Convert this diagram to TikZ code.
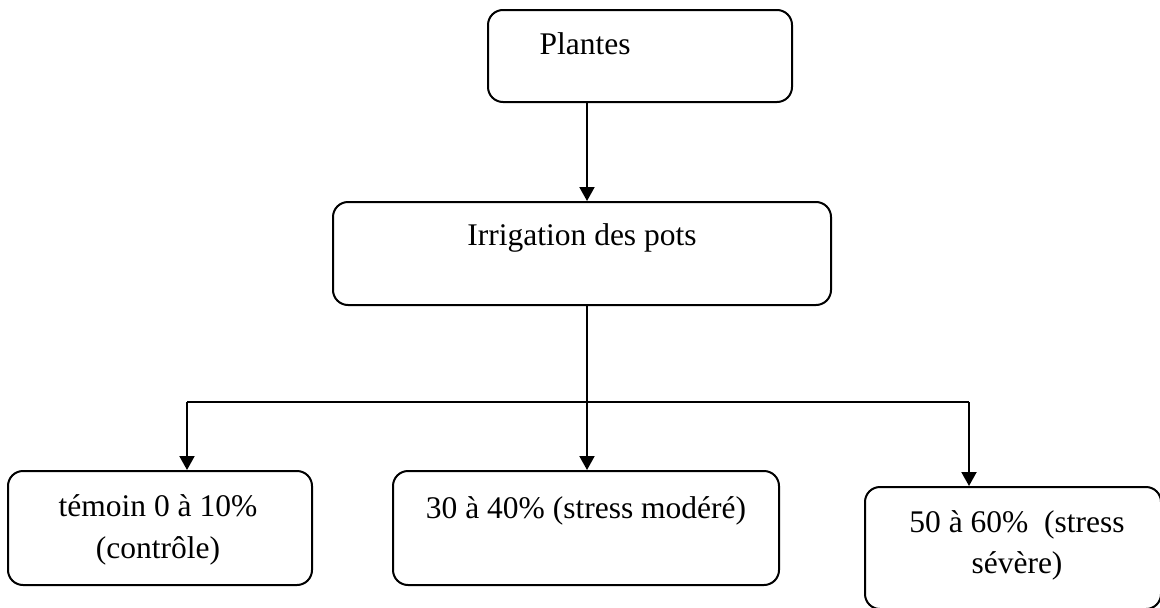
\documentclass[tikz,border=0pt]{standalone}
\usepackage{fontspec}
\setmainfont{Liberation Serif}
\usetikzlibrary{arrows.meta}
\begin{document}
\begin{tikzpicture}[x=1pt,y=-1pt,
  box/.style={draw=black,line width=2pt,rounded corners=15pt,rectangle,inner sep=0pt},
  txt/.style={anchor=base,inner sep=0pt,font=\fontsize{31.5}{38}\selectfont},
  arr/.style={line width=2pt,-{Triangle[width=15pt,length=14pt]}},
  ln/.style={line width=2pt}]
\useasboundingbox (0,0) rectangle (1160,608);
\node[box,minimum width=304pt,minimum height=92pt] (b1) at (640,56) {};
\node[box,minimum width=498pt,minimum height=103pt] (b2) at (582,253.5) {};
\node[box,minimum width=304pt,minimum height=114pt] (b3) at (160,528) {};
\node[box,minimum width=386pt,minimum height=114pt] (b4) at (586,528) {};
\node[box,minimum width=296pt,minimum height=122pt] (b5) at (1013,548) {};
\node[txt] (t1) at (585,54) {Plantes};
\node[txt] (t2) at (582,245) {Irrigation des pots};
\node[txt] (t3a) at (158,516) {témoin 0 à 10\%};
\node[txt] (t3b) at (158,558) {(contrôle)};
\node[txt] (t4) at (586,518) {30 à 40\% (stress modéré)};
\node[txt] (t5a) at (1017,532) {50 à 60\%~ (stress};
\node[txt] (t5b) at (1017,573) {sévère)};
\coordinate (j) at (587,402);
\coordinate (l) at (187,402);
\coordinate (r) at (969,402);
\draw[arr] (b1.south -| j) -- (b2.north -| j);
\draw[arr] (b2.south -| j) -- (b4.north -| j);
\draw[ln] (l) -- (r);
\draw[arr] (l) -- (b3.north -| l);
\draw[arr] (r) -- (b5.north -| r);
\end{tikzpicture}
\end{document}
